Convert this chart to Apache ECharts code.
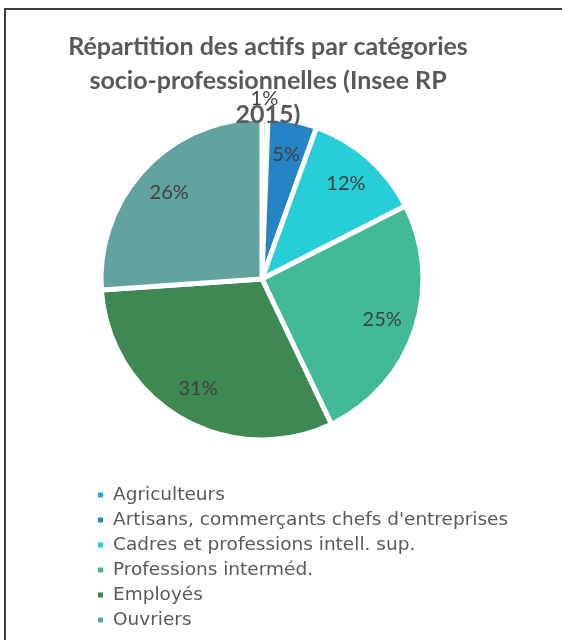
<!DOCTYPE html>
<html>
<head>
<meta charset="utf-8">
<script src="https://cdn.jsdelivr.net/npm/echarts@6/dist/echarts.min.js"></script>
<style>
  html, body { margin: 0; padding: 0; background: #fff; }
  #frame { position: absolute; left: 4px; top: 8px; width: 620px; height: 700px; border: 2px solid #3f3f3f; box-sizing: border-box; }
  #chart { position: absolute; left: 0; top: 0; width: 562px; height: 640px; }
</style>
</head>
<body>
<div id="frame"></div>
<div id="chart"></div>
<script>
const categories = [
  "Agriculteurs",
  "Artisans, commerçants chefs d'entreprises",
  "Cadres et professions intell. sup.",
  "Professions interméd.",
  "Employés",
  "Ouvriers"
];
const shares = [0.6, 4.9, 12.0, 25.4, 31.0, 26.1];
const colors = ["#1CADE4", "#2683C6", "#27CED7", "#42BA97", "#3E8853", "#62A39F"];
const titleText = "Répartition des actifs par catégories\nsocio-professionnelles (Insee RP\n2015)";

const CX = 262, CY = 279, R = 161;

const chart = echarts.init(document.getElementById('chart'), null, { renderer: 'canvas' });
chart.setOption({
  animation: false,
  color: colors,
  title: {
    text: titleText,
    left: 268,
    textAlign: 'center',
    top: 30,
    padding: 0,
    textStyle: { fontFamily: 'Lato', fontSize: 25, fontWeight: 'bold', color: '#595959', lineHeight: 34 }
  },
  legend: {
    orient: 'vertical',
    left: 96,
    top: 485,
    padding: 0,
    icon: 'rect',
    itemWidth: 7,
    itemHeight: 7,
    itemGap: 5,
    textStyle: { fontFamily: 'DejaVu Sans', fontSize: 18.5, color: '#595959', lineHeight: 20, padding: [0,0,0,4] },
    data: categories
  },
  series: [{
    type: 'pie',
    center: [CX, CY],
    radius: R,
    startAngle: 90,
    clockwise: true,
    avoidLabelOverlap: false,
    itemStyle: { borderColor: '#fff', borderWidth: 5 },
    label: {
      show: true,
      position: 'inside',
      fontFamily: 'Lato',
      fontSize: 20,
      color: '#404040',
      formatter: p => Math.round(p.value) + '%'
    },
    labelLine: { show: false },
    labelLayout: function (params) {
      const r = params.labelRect;
      const lx = r.x + r.width / 2, ly = r.y + r.height / 2;
      const k = params.dataIndex === 0 ? 1.16 : 0.52;
      return { dx: (lx - CX) * k + (params.dataIndex === 0 ? -1 : 0), dy: (ly - CY) * k };
    },
    emphasis: { disabled: true },
    data: categories.map((c, i) => ({ name: c, value: shares[i] }))
  }]
});
</script>
</body>
</html>
